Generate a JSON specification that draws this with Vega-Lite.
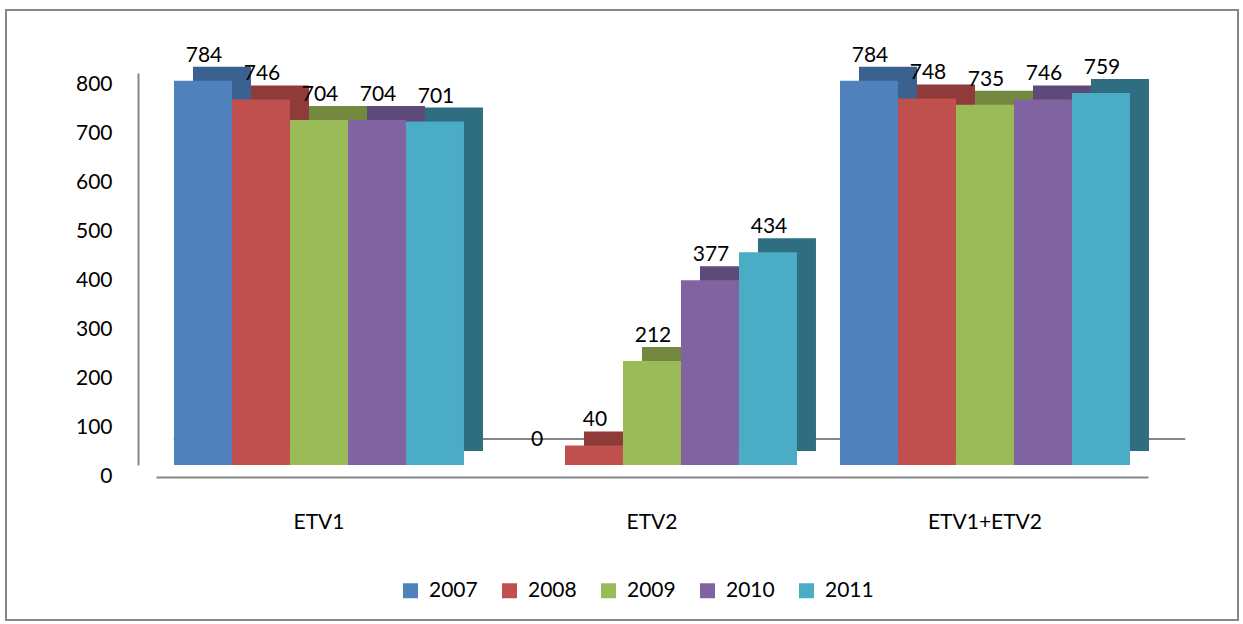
{
  "$schema": "https://vega.github.io/schema/vega-lite/v6.json",
  "width": 1232,
  "height": 610,
  "autosize": {"type": "none"},
  "padding": {"left": 6, "top": 10, "right": 5, "bottom": 4},
  "config": {"view": {"stroke": "#868686", "strokeWidth": 2}, "font": "Lato"},
  "data": {
    "values": [
      {"cat": "ETV1", "year": "2007", "value": 784},
      {"cat": "ETV1", "year": "2008", "value": 746},
      {"cat": "ETV1", "year": "2009", "value": 704},
      {"cat": "ETV1", "year": "2010", "value": 704},
      {"cat": "ETV1", "year": "2011", "value": 701},
      {"cat": "ETV2", "year": "2007", "value": 0},
      {"cat": "ETV2", "year": "2008", "value": 40},
      {"cat": "ETV2", "year": "2009", "value": 212},
      {"cat": "ETV2", "year": "2010", "value": 377},
      {"cat": "ETV2", "year": "2011", "value": 434},
      {"cat": "ETV1+ETV2", "year": "2007", "value": 784},
      {"cat": "ETV1+ETV2", "year": "2008", "value": 748},
      {"cat": "ETV1+ETV2", "year": "2009", "value": 735},
      {"cat": "ETV1+ETV2", "year": "2010", "value": 746},
      {"cat": "ETV1+ETV2", "year": "2011", "value": 759}
    ]
  },
  "encoding": {
    "x": {
      "field": "cat", "type": "nominal", "sort": ["ETV1", "ETV2", "ETV1+ETV2"],
      "scale": {"range": [150, 1142], "paddingInner": 0.129, "paddingOuter": 0.054},
      "axis": {"title": null, "orient": "bottom", "ticks": false, "domainColor": "#868686", "domainWidth": 2, "offset": -143, "labelPadding": 34, "labelFontSize": 21, "labelColor": "#000000", "labelAngle": 0}
    },
    "y": {
      "field": "value", "type": "quantitative",
      "scale": {"domain": [0, 800], "range": [455, 63]},
      "axis": {"title": null, "values": [0, 100, 200, 300, 400, 500, 600, 700, 800], "grid": false, "ticks": false, "domainColor": "#868686", "domainWidth": 2, "labelFontSize": 21, "labelColor": "#000000", "offset": -132, "labelPadding": 26, "labelOffset": 11}
    }
  },
  "layer": [
    {
      "mark": {"type": "rule", "color": "#868686", "strokeWidth": 2, "yOffset": -26, "x2Offset": 55},
      "encoding": {
        "x": {"datum": "ETV1", "type": "nominal", "bandPosition": 0},
        "x2": {"datum": "ETV1+ETV2", "bandPosition": 1},
        "y": {"datum": 0, "type": "quantitative"}
      }
    },
    {
      "mark": {"type": "bar", "yOffset": -14},
      "encoding": {
        "xOffset": {"field": "year", "type": "nominal", "scale": {"range": [19, 309], "paddingInner": 0, "paddingOuter": 0}},
        "color": {"field": "year", "type": "nominal", "scale": {"range": ["#3A6190", "#8E3B39", "#72893F", "#5E4A78", "#2F6E80"]}, "legend": null}
      }
    },
    {
      "mark": {"type": "bar"},
      "encoding": {
        "xOffset": {"field": "year", "type": "nominal", "scale": {"range": [0, 290], "paddingInner": 0, "paddingOuter": 0}},
        "color": {
          "field": "year", "type": "nominal",
          "scale": {"range": ["#4F81BD", "#C0504D", "#9BBB59", "#8064A2", "#4BACC6"]},
          "legend": {"orient": "none", "legendX": 394, "legendY": 570, "direction": "horizontal", "title": null, "symbolType": "square", "symbolSize": 225, "symbolStrokeWidth": 0, "symbolOpacity": 1, "labelFontSize": 21, "labelColor": "#000000", "columnPadding": 21, "labelOffset": 8}
        }
      }
    },
    {
      "mark": {"type": "text", "dy": -19, "baseline": "alphabetic", "fontSize": 21, "color": "#000000"},
      "encoding": {
        "xOffset": {"field": "year", "type": "nominal", "scale": {"type": "point", "range": [30, 262], "padding": 0}},
        "text": {"field": "value", "type": "quantitative"}
      }
    }
  ],
  "resolve": {"scale": {"color": "independent", "xOffset": "independent"}}
}
